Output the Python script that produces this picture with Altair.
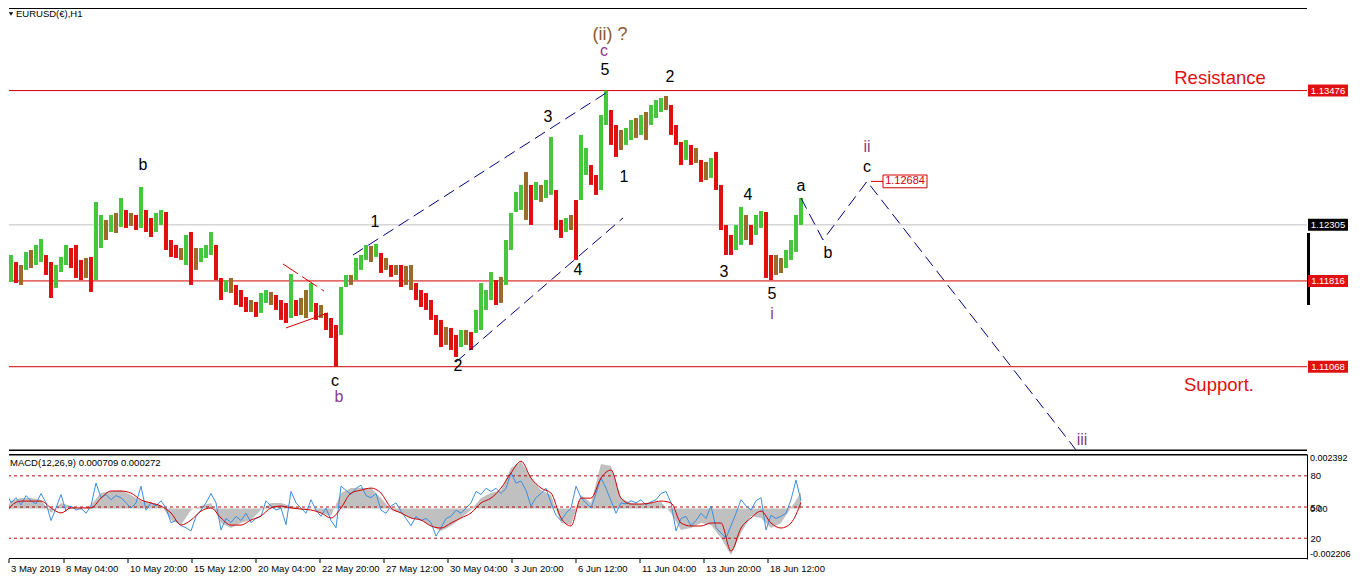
import altair as alt
import pandas as pd
import numpy as np

# ---------------- data ----------------
# hour index (1 hour per bar in the original); sampled as 5-hour bars
bar_hours = list(range(0, 801, 5))
bar_high = [
    1.11711, 1.12025, 1.12042, 1.11981, 1.11955, 1.12069, 1.12086, 1.12130, 1.12182, 1.12042,
    1.11981, 1.11955, 1.12025, 1.12130, 1.12103, 1.12130, 1.11999, 1.12016, 1.12025, 1.12505,
    1.12391, 1.12348, 1.12391, 1.12409, 1.12539, 1.12435, 1.12409, 1.12391, 1.12635, 1.12435,
    1.12365, 1.12409, 1.12435, 1.12417, 1.12173, 1.12130, 1.12103, 1.12217, 1.12243, 1.12103,
    1.12103, 1.12130, 1.12243, 1.12130, 1.11842, 1.11824, 1.11842, 1.11781, 1.11737, 1.11676,
    1.11650, 1.11633, 1.11711, 1.11737, 1.11720, 1.11694, 1.11650, 1.11624, 1.11877, 1.11650,
    1.11667, 1.11737, 1.11798, 1.11624, 1.11606, 1.11537, 1.11493, 1.11432, 1.11763, 1.11868,
    1.11868, 1.12016, 1.12042, 1.12130, 1.12121, 1.12138, 1.12060, 1.12016, 1.11955, 1.11955,
    1.11955, 1.11947, 1.11955, 1.11798, 1.11737, 1.11711, 1.11650, 1.11519, 1.11476, 1.11414,
    1.11406, 1.11345, 1.11388, 1.11388, 1.11371, 1.11563, 1.11798, 1.11737, 1.11894, 1.11824,
    1.11851, 1.12173, 1.12409, 1.12592, 1.12653, 1.12766, 1.12653, 1.12679, 1.12653, 1.12696,
    1.13071, 1.12609, 1.12348, 1.12365, 1.12391, 1.12522, 1.13089, 1.12975, 1.12827, 1.12740,
    1.13263, 1.13476, 1.13307, 1.13176, 1.13132, 1.13150, 1.13220, 1.13237, 1.13263, 1.13289,
    1.13350, 1.13394, 1.13411, 1.13429, 1.13350, 1.13176, 1.13028, 1.13045, 1.13002, 1.12975,
    1.12871, 1.12853, 1.12888, 1.12941, 1.12653, 1.12304, 1.12217, 1.12304, 1.12461, 1.12391,
    1.12304, 1.12391, 1.12426, 1.12417, 1.12042, 1.12042, 1.12016, 1.12086, 1.12173, 1.12391,
    1.12539,
]
bar_low = [
    1.11345, 1.11694, 1.11807, 1.11798, 1.11781, 1.11912, 1.11929, 1.11955, 1.11981, 1.11868,
    1.11667, 1.11755, 1.11894, 1.11955, 1.11929, 1.11842, 1.11824, 1.11842, 1.11720, 1.11824,
    1.12103, 1.12173, 1.12243, 1.12234, 1.12287, 1.12278, 1.12295, 1.12260, 1.12278, 1.12243,
    1.12199, 1.12243, 1.12304, 1.12086, 1.12025, 1.12016, 1.11999, 1.11955, 1.11781, 1.11912,
    1.11981, 1.12016, 1.12042, 1.11824, 1.11650, 1.11720, 1.11711, 1.11606, 1.11589, 1.11545,
    1.11545, 1.11502, 1.11537, 1.11624, 1.11606, 1.11563, 1.11476, 1.11449, 1.11493, 1.11510,
    1.11519, 1.11493, 1.11545, 1.11476, 1.11493, 1.11388, 1.11319, 1.11066, 1.11345, 1.11763,
    1.11781, 1.11824, 1.11912, 1.11999, 1.11981, 1.12025, 1.11885, 1.11912, 1.11851, 1.11868,
    1.11763, 1.11781, 1.11737, 1.11650, 1.11589, 1.11563, 1.11476, 1.11345, 1.11240, 1.11258,
    1.11214, 1.11153, 1.11240, 1.11258, 1.11214, 1.11362, 1.11388, 1.11563, 1.11650, 1.11606,
    1.11624, 1.11781, 1.12086, 1.12417, 1.12435, 1.12348, 1.12304, 1.12522, 1.12505, 1.12539,
    1.12566, 1.12260, 1.12191, 1.12243, 1.12260, 1.11999, 1.12522, 1.12740, 1.12653, 1.12566,
    1.12609, 1.13176, 1.13002, 1.12897, 1.12958, 1.13002, 1.13045, 1.13063, 1.13089, 1.13045,
    1.13176, 1.13237, 1.13289, 1.13307, 1.13089, 1.13002, 1.12827, 1.12871, 1.12827, 1.12845,
    1.12679, 1.12696, 1.12714, 1.12609, 1.12260, 1.12042, 1.12042, 1.12086, 1.12130, 1.12173,
    1.12130, 1.12217, 1.12278, 1.11842, 1.11824, 1.11868, 1.11885, 1.11929, 1.11999, 1.12069,
    1.12304,
]

macd_hours = list(range(0, 801, 10))
macd_main = [
    -0.00041, 0.00033, 0.00046, 0.00046, 0.00038, -0.00019, 0.00025, 0.00011, -0.00006, 0.00016,
    0.00068, 0.00077, 0.00081, 0.00060, 0.00033, 0.00025, 0.00016, -0.00050, -0.00072, -0.00006,
    0.00011, 0.00025, -0.00063, -0.00085, -0.00063, -0.00050, -0.00006, 0.00025, 0.00025, 0.00011,
    0.00003, 0.00003, -0.00019, -0.00032, 0.00068, 0.00090, 0.00090, 0.00090, 0.00046, -0.00006,
    -0.00019, -0.00041, -0.00050, -0.00076, -0.00098, -0.00076, -0.00041, -0.00006, 0.00046, 0.00068,
    0.00081, 0.00178, 0.00208, 0.00134, 0.00081, 0.00060, -0.00063, -0.00072, 0.00060, 0.00025,
    0.00195, 0.00187, 0.00046, 0.00025, 0.00020, 0.00025, 0.00029, -0.00019, -0.00094, -0.00085,
    -0.00063, -0.00072, -0.00129, -0.00203, -0.00107, -0.00032, -0.00041, -0.00085, -0.00063, 0.00003,
    0.000709,
]
macd_signal = [
    -0.00085, 0.00011, 0.00033, 0.00033, 0.00033, 0.00003, -0.00019, 0.00003, 0.00003, 0.00003,
    0.00046, 0.00077, 0.00077, 0.00068, 0.00038, 0.00025, 0.00011, -0.00019, -0.00072, -0.00050,
    -0.00011, 0.00003, -0.00041, -0.00072, -0.00072, -0.00050, -0.00032, 0.00003, 0.00011, 0.00003,
    -0.00002, -0.00006, -0.00019, -0.00041, 0.00003, 0.00068, 0.00081, 0.00090, 0.00068, 0.00003,
    -0.00019, -0.00041, -0.00050, -0.00076, -0.00085, -0.00063, -0.00041, -0.00019, 0.00025, 0.00046,
    0.00090, 0.00156, 0.00208, 0.00134, 0.00090, 0.00068, -0.00041, -0.00076, 0.00046, 0.00046,
    0.00134, 0.00169, 0.00046, 0.00020, 0.00020, 0.00025, 0.00033, 0.00025, -0.00063, -0.00076,
    -0.00076, -0.00063, -0.00063, -0.00186, -0.00085, -0.00041, -0.00011, -0.00063, -0.00085, -0.00063,
    0.000272,
]

osc_hours = list(range(0, 801, 5))
osc_values = [
    30, 65, 54, 59, 52, 61, 56, 53, 63, 54,
    37, 49, 62, 46, 51, 47, 49, 44, 51, 73,
    59, 62, 57, 61, 59, 54, 49, 54, 70, 47,
    54, 51, 56, 49, 35, 37, 32, 30, 27, 41,
    47, 54, 63, 54, 28, 39, 35, 41, 37, 44,
    35, 39, 41, 56, 51, 47, 49, 33, 65, 54,
    49, 44, 57, 47, 41, 49, 37, 30, 70, 66,
    62, 68, 71, 61, 59, 63, 47, 44, 51, 54,
    46, 39, 32, 41, 37, 39, 35, 22, 30, 39,
    41, 47, 44, 49, 54, 65, 62, 68, 65, 68,
    63, 68, 83, 73, 75, 66, 51, 59, 63, 68,
    54, 42, 37, 44, 49, 70, 59, 54, 49, 63,
    78, 68, 56, 44, 54, 53, 56, 54, 57, 52,
    55, 57, 63, 65, 54, 27, 39, 41, 32, 37,
    44, 39, 51, 30, 25, 20, 32, 44, 57, 51,
    47, 56, 59, 28, 42, 39, 41, 44, 57, 76,
    56,
]
osc_levels = [80, 50, 20]

level_prices = [1.13476, 1.11816, 1.11068]
level_texts = ["1.13476", "1.11816", "1.11068"]
bid_price = 1.12305
bid_text = "1.12305"

price_ticks = [1.14068, 1.13783, 1.13493, 1.13208, 1.12918, 1.12633, 1.12343,
               1.12058, 1.11768, 1.11483, 1.11193, 1.10908, 1.10618, 1.10333]
time_tick_hours = [8, 63, 127, 191, 255, 319, 383, 447, 511, 575, 639, 703, 767]
time_tick_labels = ["3 May 2019", "8 May 04:00", "10 May 20:00", "15 May 12:00",
                    "20 May 04:00", "22 May 20:00", "27 May 12:00", "30 May 04:00",
                    "3 Jun 20:00", "6 Jun 12:00", "11 Jun 04:00", "13 Jun 20:00",
                    "18 Jun 12:00"]

wave_texts = ["b", "c", "b", "1", "2", "3", "4", "5", "c", "(ii) ?", "1", "2",
              "3", "4", "5", "i", "a", "b", "c", "ii", "iii", "Resistance", "Support."]
wave_hours = [142, 334, 338, 374, 457, 547, 577, 604, 603, 609, 623, 669,
              723, 747, 771, 771, 800, 827, 866, 866, 1081, 1219, 1218]
wave_prices = [1.12827, 1.10944, 1.10804, 1.12330, 1.11075, 1.13246, 1.11912, 1.13656,
               1.13821, 1.13961, 1.12723, 1.13595, 1.11894, 1.12566, 1.11702, 1.11528,
               1.12644, 1.12060, 1.12810, 1.12984, 1.10429, 1.13586, 1.10909]
wave_kinds = ["k", "k", "p", "k", "k", "k", "k", "k", "p", "o", "k", "k",
              "k", "k", "k", "p", "k", "k", "k", "p", "p", "r", "r"]

chan_ids = ["upper", "upper", "lower", "lower", "proj", "proj", "proj", "proj"]
chan_hours = [352, 605, 455, 622, 800, 822, 866, 1075]
chan_prices = [1.12042, 1.13455, 1.11109, 1.12365, 1.12539, 1.12173, 1.12684, 1.10342]

wedge_top_hours = [282, 323]
wedge_top_prices = [1.11964, 1.11728]
wedge_bot_hours = [285, 327]
wedge_bot_prices = [1.11406, 1.11537]

target_price = 1.12684
target_text = "1.12684"
target_hour = 904
target_tick_hours = [870, 882]

range_bar = [1.12234, 1.11606]

# ---------------- styling ----------------
FONT = "Liberation Sans"
W, H1, H2 = 1298, 443, 105
GREEN, RED, BROWN = "#46C63C", "#E01010", "#9A6B2A"
LINE_RED = "#D40000"
NAVY = "#000080"
PURPLE = "#8E3A8E"
KIND_COL = {"k": "#000000", "p": PURPLE, "o": "#8C5A2E", "r": "#E01010"}
KIND_SIZE = {"k": 16, "p": 16, "o": 18, "r": 18.5}

x_scale = alt.Scale(domain=[8, 8 + W], nice=False, zero=False)
p_scale = alt.Scale(domain=[1.10333, 1.14196], nice=False, zero=False)
m_scale = alt.Scale(domain=[-0.002206, 0.002392], nice=False, zero=False)
o_scale = alt.Scale(domain=[0, 101], nice=False, zero=False)

one = pd.DataFrame({"k": [0]})

# ---------------- main price panel ----------------
bars = pd.DataFrame({"hour": bar_hours, "high": bar_high, "low": bar_low})
mid = (bars["high"] + bars["low"]) / 2
dmid = mid.diff().fillna(1.0)
bars["col"] = np.where(dmid > 0.00025, GREEN, np.where(dmid < -0.00025, RED, BROWN))

price_axis = alt.Axis(orient="right", values=price_ticks, format=".5f", tickSize=4,
                      labelPadding=2, labelFont=FONT, labelFontSize=9.5, labelColor="black",
                      domainColor="black", domainWidth=1, tickColor="black", grid=False,
                      title=None, labelOverlap=False, labelFlush=False)

hl = pd.DataFrame({"price": level_prices})
red_lines = alt.Chart(hl).mark_rule(color=LINE_RED, strokeWidth=1).encode(
    y=alt.Y("price:Q", scale=p_scale, axis=None))
bid_line = alt.Chart(pd.DataFrame({"price": [bid_price]})).mark_rule(
    color="#C0C0C0", strokeWidth=1).encode(y=alt.Y("price:Q", scale=p_scale, axis=None))

candles = alt.Chart(bars).mark_rule(strokeWidth=4, clip=True).encode(
    x=alt.X("hour:Q", scale=x_scale, axis=None),
    y=alt.Y("low:Q", scale=p_scale, axis=price_axis),
    y2="high:Q",
    color=alt.Color("col:N", scale=None),
)

chan = pd.DataFrame({"id": chan_ids, "hour": chan_hours, "price": chan_prices})
channel = alt.Chart(chan).mark_line(color=NAVY, strokeWidth=1, strokeDash=[12, 6],
                                    clip=True).encode(
    x=alt.X("hour:Q", scale=x_scale, axis=None),
    y=alt.Y("price:Q", scale=p_scale, axis=None),
    detail="id:N",
)

wedge_top = alt.Chart(pd.DataFrame({"hour": wedge_top_hours, "price": wedge_top_prices})
                      ).mark_line(color=LINE_RED, strokeWidth=1, strokeDash=[18, 5]).encode(
    x=alt.X("hour:Q", scale=x_scale, axis=None),
    y=alt.Y("price:Q", scale=p_scale, axis=None))
wedge_bot = alt.Chart(pd.DataFrame({"hour": wedge_bot_hours, "price": wedge_bot_prices})
                      ).mark_line(color=LINE_RED, strokeWidth=1).encode(
    x=alt.X("hour:Q", scale=x_scale, axis=None),
    y=alt.Y("price:Q", scale=p_scale, axis=None))

waves = pd.DataFrame({"label": wave_texts, "hour": wave_hours, "price": wave_prices,
                      "kind": wave_kinds})
waves["col"] = waves["kind"].map(KIND_COL)
waves["size"] = waves["kind"].map(KIND_SIZE)
wave_text = alt.Chart(waves).mark_text(font=FONT, align="center", baseline="middle").encode(
    x=alt.X("hour:Q", scale=x_scale, axis=None),
    y=alt.Y("price:Q", scale=p_scale, axis=None),
    text="label:N",
    color=alt.Color("col:N", scale=None),
    size=alt.Size("size:Q", scale=None),
)

tgt = pd.DataFrame({"hour": [target_hour], "price": [target_price], "label": [target_text]})
tgt_tick = alt.Chart(pd.DataFrame({"h1": [target_tick_hours[0]], "h2": [target_tick_hours[1]],
                                   "price": [target_price]})).mark_rule(
    color=LINE_RED, strokeWidth=1).encode(
    x=alt.X("h1:Q", scale=x_scale, axis=None), x2="h2:Q",
    y=alt.Y("price:Q", scale=p_scale, axis=None))
tgt_box = alt.Chart(tgt).mark_point(
    shape="M-1,-0.29L1,-0.29L1,0.29L-1,0.29Z", size=1936, filled=True,
    fill="white", stroke=LINE_RED, strokeWidth=1, opacity=1).encode(
    x=alt.X("hour:Q", scale=x_scale, axis=None),
    y=alt.Y("price:Q", scale=p_scale, axis=None))
tgt_txt = alt.Chart(tgt).mark_text(font=FONT, fontSize=11, color=LINE_RED,
                                   align="center", baseline="middle").encode(
    x=alt.X("hour:Q", scale=x_scale, axis=None),
    y=alt.Y("price:Q", scale=p_scale, axis=None), text="label:N")

tags = pd.DataFrame({"price": level_prices + [bid_price],
                     "label": level_texts + [bid_text],
                     "bg": [RED, RED, RED, "#000000"]})
tag_box = alt.Chart(tags).mark_point(
    shape="M-1,-0.3L1,-0.3L1,0.3L-1,0.3Z", size=1600, filled=True,
    opacity=1, strokeWidth=0).encode(
    x=alt.value(W + 21),
    y=alt.Y("price:Q", scale=p_scale, axis=None),
    fill=alt.Fill("bg:N", scale=None))
tag_txt = alt.Chart(tags).mark_text(font=FONT, fontSize=9.5, color="white",
                                    align="center", baseline="middle").encode(
    x=alt.value(W + 21),
    y=alt.Y("price:Q", scale=p_scale, axis=None), text="label:N")

rng = alt.Chart(pd.DataFrame({"a": [range_bar[0]], "b": [range_bar[1]]})).mark_rule(
    color="black", strokeWidth=3).encode(
    x=alt.value(W + 1.5), y=alt.Y("a:Q", scale=p_scale, axis=None), y2="b:Q")

top_border = alt.Chart(one).mark_rule(color="black", strokeWidth=1).encode(y=alt.value(0.5))
bot_border = alt.Chart(one).mark_rule(color="black", strokeWidth=1.5).encode(y=alt.value(H1 - 0.75))

title_tri = alt.Chart(one).mark_point(shape="triangle-down", filled=True, color="black",
                                      size=18, opacity=1).encode(
    x=alt.value(2), y=alt.value(6))
title_txt = alt.Chart(one).mark_text(text="EURUSD(€),H1", font=FONT, fontSize=9.5,
                                     align="left", baseline="top", color="black").encode(
    x=alt.value(7), y=alt.value(1))

main = alt.layer(
    bid_line, red_lines, candles, channel, wedge_top, wedge_bot, wave_text,
    tgt_tick, tgt_box, tgt_txt, rng, tag_box, tag_txt, top_border, bot_border,
    title_tri, title_txt,
).properties(width=W, height=H1)

# ---------------- MACD panel ----------------
macd = pd.DataFrame({"hour": macd_hours, "main": macd_main, "signal": macd_signal})
osc = pd.DataFrame({"hour": osc_hours, "osc": osc_values})
ticks = pd.DataFrame({"hour": time_tick_hours, "label": time_tick_labels})

osc_axis = alt.Axis(orient="right", values=osc_levels, tickSize=0, labelPadding=3,
                    labelFont=FONT, labelFontSize=9.5, labelColor="black",
                    domainColor="black", grid=False, title=None, labelOverlap=False,
                    labelFlush=False)

hist = alt.Chart(macd).mark_area(color="#C0C0C0", clip=True).encode(
    x=alt.X("hour:Q", scale=x_scale, axis=None),
    y=alt.Y("main:Q", scale=m_scale, axis=None),
    y2=alt.datum(0))
levels = alt.Chart(pd.DataFrame({"lvl": osc_levels})).mark_rule(
    color="#C00000", strokeWidth=1, strokeDash=[3, 3]).encode(
    y=alt.Y("lvl:Q", scale=o_scale, axis=osc_axis))
osc_line = alt.Chart(osc).mark_line(color="#3A8EE0", strokeWidth=1, clip=True).encode(
    x=alt.X("hour:Q", scale=x_scale, axis=None),
    y=alt.Y("osc:Q", scale=o_scale, axis=None))
sig_line = alt.Chart(macd).mark_line(color="#D00000", strokeWidth=1, clip=True,
                                     interpolate="monotone").encode(
    x=alt.X("hour:Q", scale=x_scale, axis=None),
    y=alt.Y("signal:Q", scale=m_scale, axis=None))

def macd_label(value, text, baseline):
    return alt.Chart(pd.DataFrame({"v": [value], "t": [text]})).mark_text(
        font=FONT, fontSize=9, color="black", align="left", baseline=baseline).encode(
        x=alt.value(W + 3), y=alt.Y("v:Q", scale=m_scale, axis=None), text="t:N")

lab_top = macd_label(0.002392, "0.002392", "top")
lab_zero = macd_label(0.0, "0.00", "middle")
lab_bot = macd_label(-0.002206, "-0.002206", "bottom")

time_ticks = alt.Chart(ticks).mark_rule(color="black", strokeWidth=1).encode(
    x=alt.X("hour:Q", scale=x_scale, axis=None),
    y=alt.value(H2), y2=alt.value(H2 + 4))
time_labels = alt.Chart(ticks).mark_text(font=FONT, fontSize=9.5, color="black",
                                         align="left", baseline="top", dx=2).encode(
    x=alt.X("hour:Q", scale=x_scale, axis=None),
    y=alt.value(H2 + 5), text="label:N")

macd_top = alt.Chart(one).mark_rule(color="black", strokeWidth=1.5).encode(y=alt.value(0.75))
macd_bottom = alt.Chart(one).mark_rule(color="black", strokeWidth=1).encode(y=alt.value(H2 - 0.5))
macd_title = alt.Chart(one).mark_text(
    text="MACD(12,26,9) 0.000709 0.000272", font=FONT, fontSize=9.5, align="left",
    baseline="middle", color="black").encode(x=alt.value(1), y=alt.value(9))

macd_panel = alt.layer(
    hist, levels, osc_line, sig_line, lab_top, lab_zero, lab_bot,
    macd_top, macd_bottom, time_ticks, time_labels, macd_title
).resolve_scale(y="independent").properties(width=W, height=H2)

chart = alt.vconcat(main, macd_panel, spacing=3).properties(padding=0).configure_view(
    stroke=None)

chart.save("out.html", embed_options={"renderer": "svg", "actions": False})
